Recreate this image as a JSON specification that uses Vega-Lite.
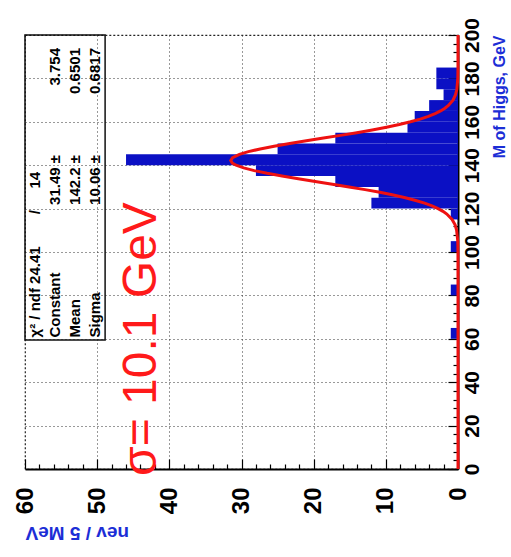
{
  "$schema": "https://vega.github.io/schema/vega-lite/v6.json",
  "width": 433,
  "height": 434,
  "autosize": {"type": "none"},
  "padding": {"left": 25, "top": 35, "right": 53, "bottom": 88},
  "background": "white",
  "config": {
    "view": {"stroke": "#222", "strokeWidth": 1.2, "strokeDash": [2, 2]},
    "font": "Liberation Sans"
  },
  "layer": [
    {
      "data": {"values": [
        {"m0": 60, "m1": 65, "n": 1},
        {"m0": 80, "m1": 85, "n": 1},
        {"m0": 100, "m1": 105, "n": 1},
        {"m0": 115, "m1": 120, "n": 1},
        {"m0": 120, "m1": 125, "n": 12},
        {"m0": 125, "m1": 130, "n": 11},
        {"m0": 130, "m1": 135, "n": 17},
        {"m0": 135, "m1": 140, "n": 28},
        {"m0": 140, "m1": 145, "n": 46},
        {"m0": 145, "m1": 150, "n": 25},
        {"m0": 150, "m1": 155, "n": 17},
        {"m0": 155, "m1": 160, "n": 7},
        {"m0": 160, "m1": 165, "n": 6},
        {"m0": 165, "m1": 170, "n": 4},
        {"m0": 170, "m1": 175, "n": 2},
        {"m0": 175, "m1": 180, "n": 3},
        {"m0": 180, "m1": 185, "n": 3}
      ]},
      "mark": {"type": "rect", "color": "#0b10c4"},
      "encoding": {
        "y": {
          "field": "m1", "type": "quantitative",
          "scale": {"domain": [0, 200], "nice": false, "zero": false},
          "axis": {
            "orient": "right",
            "values": [0,4,8,12,16,20,24,28,32,36,40,44,48,52,56,60,64,68,72,76,80,84,88,92,96,100,104,108,112,116,120,124,128,132,136,140,144,148,152,156,160,164,168,172,176,180,184,188,192,196,200],
            "tickCount": 500,
            "labelExpr": "datum.value % 20 === 0 ? format(datum.value, 'd') : ''",
            "labelAngle": 270,
            "labelFont": "Liberation Sans",
            "labelFontSize": 21,
            "labelFontWeight": "bold",
            "labelColor": "#000",
            "labelPadding": 13,
            "labelOverlap": false,
            "labelFlush": false,
            "labelBound": false,
            "tickSize": {"condition": {"test": "datum.value % 20 === 0", "value": -10}, "value": -5},
            "tickColor": "#000",
            "tickWidth": 1.2,
            "domainColor": "#000",
            "domainWidth": 2,
            "grid": true,
            "gridColor": "#333",
            "gridDash": [1, 3],
            "gridWidth": 1,
            "gridOpacity": {"condition": {"test": "datum.value % 20 === 0 && datum.value > 0 && datum.value < 200", "value": 1}, "value": 0},
            "title": "M of Higgs, GeV",
            "titleColor": "#1c2ed6",
            "titleFont": "Liberation Sans",
            "titleFontSize": 16,
            "titleFontWeight": "bold",
            "titleAngle": 270,
            "titleAnchor": "end",
            "titleAlign": "right",
            "titleBaseline": "top",
            "titlePadding": 4
          }
        },
        "y2": {"field": "m0"},
        "x": {
          "field": "n", "type": "quantitative",
          "scale": {"domain": [0, 60], "reverse": true, "nice": false},
          "axis": {
            "orient": "bottom",
            "values": [0,2,4,6,8,10,12,14,16,18,20,22,24,26,28,30,32,34,36,38,40,42,44,46,48,50,52,54,56,58,60],
            "tickCount": 500,
            "labelExpr": "datum.value % 10 === 0 ? format(datum.value, 'd') : ''",
            "labelAngle": 270,
            "labelFont": "Liberation Sans",
            "labelFontSize": 24,
            "labelFontWeight": "bold",
            "labelColor": "#000",
            "labelPadding": 28,
            "labelOverlap": false,
            "labelFlush": false,
            "labelBound": false,
            "tickSize": {"condition": {"test": "datum.value % 10 === 0", "value": -10}, "value": -5},
            "tickColor": "#000",
            "tickWidth": 1.2,
            "domainColor": "#000",
            "domainWidth": 2,
            "grid": true,
            "gridColor": "#333",
            "gridDash": [1, 3],
            "gridWidth": 1,
            "gridOpacity": {"condition": {"test": "datum.value % 10 === 0 && datum.value > 0 && datum.value < 60", "value": 1}, "value": 0},
            "title": "nev / 5 MeV",
            "titleColor": "#1c2ed6",
            "titleFont": "Liberation Sans",
            "titleFontSize": 19,
            "titleFontWeight": "bold",
            "titleAngle": 180,
            "titleAnchor": "end",
            "titleAlign": "right",
            "titleBaseline": "bottom",
            "titlePadding": 9
          }
        },
        "x2": {"datum": 0}
      }
    },
    {
      "data": {"values": [
        {"m": 0, "g": 0}, {"m": 40, "g": 0}, {"m": 80, "g": 0}, {"m": 90, "g": 0.001},
        {"m": 100, "g": 0.005}, {"m": 105, "g": 0.034}, {"m": 110, "g": 0.19},
        {"m": 112.5, "g": 0.40}, {"m": 115, "g": 0.82}, {"m": 117.5, "g": 1.55},
        {"m": 118.75, "g": 2.08}, {"m": 120, "g": 2.76}, {"m": 121.25, "g": 3.60},
        {"m": 122.5, "g": 4.63}, {"m": 123.75, "g": 5.86}, {"m": 125, "g": 7.30},
        {"m": 126.25, "g": 8.96}, {"m": 127.5, "g": 10.83}, {"m": 128.75, "g": 12.88},
        {"m": 130, "g": 15.10}, {"m": 131.25, "g": 17.41}, {"m": 132.5, "g": 19.79},
        {"m": 133.75, "g": 22.13}, {"m": 135, "g": 24.38}, {"m": 136.25, "g": 26.44},
        {"m": 137.5, "g": 28.23}, {"m": 138.75, "g": 29.69}, {"m": 140, "g": 30.75},
        {"m": 141, "g": 31.27}, {"m": 142.2, "g": 31.49}, {"m": 143.5, "g": 31.23},
        {"m": 145, "g": 30.29}, {"m": 146.25, "g": 29.04}, {"m": 147.5, "g": 27.41},
        {"m": 148.75, "g": 25.48}, {"m": 150, "g": 23.32}, {"m": 151.25, "g": 21.01},
        {"m": 152.5, "g": 18.64}, {"m": 153.75, "g": 16.29}, {"m": 155, "g": 14.02},
        {"m": 156.25, "g": 11.88}, {"m": 157.5, "g": 9.91}, {"m": 158.75, "g": 8.14},
        {"m": 160, "g": 6.58}, {"m": 161.25, "g": 5.24}, {"m": 162.5, "g": 4.11},
        {"m": 163.75, "g": 3.17}, {"m": 165, "g": 2.41}, {"m": 166.25, "g": 1.81},
        {"m": 167.5, "g": 1.33}, {"m": 170, "g": 0.69}, {"m": 172.5, "g": 0.34},
        {"m": 175, "g": 0.155}, {"m": 180, "g": 0.027}, {"m": 185, "g": 0.003},
        {"m": 200, "g": 0}
      ]},
      "mark": {"type": "line", "color": "#ee1111", "strokeWidth": 3, "clip": false},
      "encoding": {
        "x": {"field": "g", "type": "quantitative"},
        "y": {"field": "m", "type": "quantitative"},
        "order": {"field": "m", "type": "quantitative"}
      }
    },
    {
      "data": {"values": [{"e0": 60, "e1": 48.9, "m0": 200, "m1": 59.4}]},
      "mark": {"type": "rect", "fill": null, "fillOpacity": 0, "stroke": "#111", "strokeWidth": 1.5},
      "encoding": {
        "x": {"field": "e0", "type": "quantitative"},
        "x2": {"field": "e1"},
        "y": {"field": "m0", "type": "quantitative"},
        "y2": {"field": "m1"}
      }
    },
    {
      "data": {"values": [
        {"ev": 58.6, "ms": 60.6, "t": "χ² / ndf 24.41"},
        {"ev": 55.8, "ms": 60.6, "t": "Constant"},
        {"ev": 53.1, "ms": 60.6, "t": "Mean"},
        {"ev": 50.3, "ms": 60.6, "t": "Sigma"}
      ]},
      "mark": {"type": "text", "angle": 270, "align": "left", "baseline": "middle", "font": "Liberation Sans", "fontSize": 15, "fontWeight": "bold", "color": "#000"},
      "encoding": {
        "x": {"field": "ev", "type": "quantitative"},
        "y": {"field": "ms", "type": "quantitative"},
        "text": {"field": "t"}
      }
    },
    {
      "data": {"values": [
        {"ev": 58.6, "ms": 136.9, "t": "14"},
        {"ev": 55.8, "ms": 144.7, "t": "31.49 ±"},
        {"ev": 53.1, "ms": 144.7, "t": "142.2 ±"},
        {"ev": 50.3, "ms": 144.7, "t": "10.06 ±"},
        {"ev": 55.8, "ms": 194, "t": "3.754"},
        {"ev": 53.1, "ms": 194, "t": "0.6501"},
        {"ev": 50.3, "ms": 194, "t": "0.6817"}
      ]},
      "mark": {"type": "text", "angle": 270, "align": "right", "baseline": "middle", "font": "Liberation Sans", "fontSize": 15, "fontWeight": "bold", "color": "#000"},
      "encoding": {
        "x": {"field": "ev", "type": "quantitative"},
        "y": {"field": "ms", "type": "quantitative"},
        "text": {"field": "t"}
      }
    },
    {
      "data": {"values": [
        {"ev": 58.6, "ms": 118.4, "t": "/"}
      ]},
      "mark": {"type": "text", "angle": 270, "align": "center", "baseline": "middle", "font": "Liberation Sans", "fontSize": 15, "fontWeight": "bold", "color": "#000"},
      "encoding": {
        "x": {"field": "ev", "type": "quantitative"},
        "y": {"field": "ms", "type": "quantitative"},
        "text": {"field": "t"}
      }
    },
    {
      "data": {"values": [
        {"ev": 43.8, "ms": 59.9, "t": "σ= 10.1 GeV"}
      ]},
      "mark": {"type": "text", "angle": 270, "align": "center", "baseline": "middle", "font": "Liberation Sans", "fontSize": 48, "color": "#ff1a1a", "clip": false},
      "encoding": {
        "x": {"field": "ev", "type": "quantitative"},
        "y": {"field": "ms", "type": "quantitative"},
        "text": {"field": "t"}
      }
    }
  ]
}
